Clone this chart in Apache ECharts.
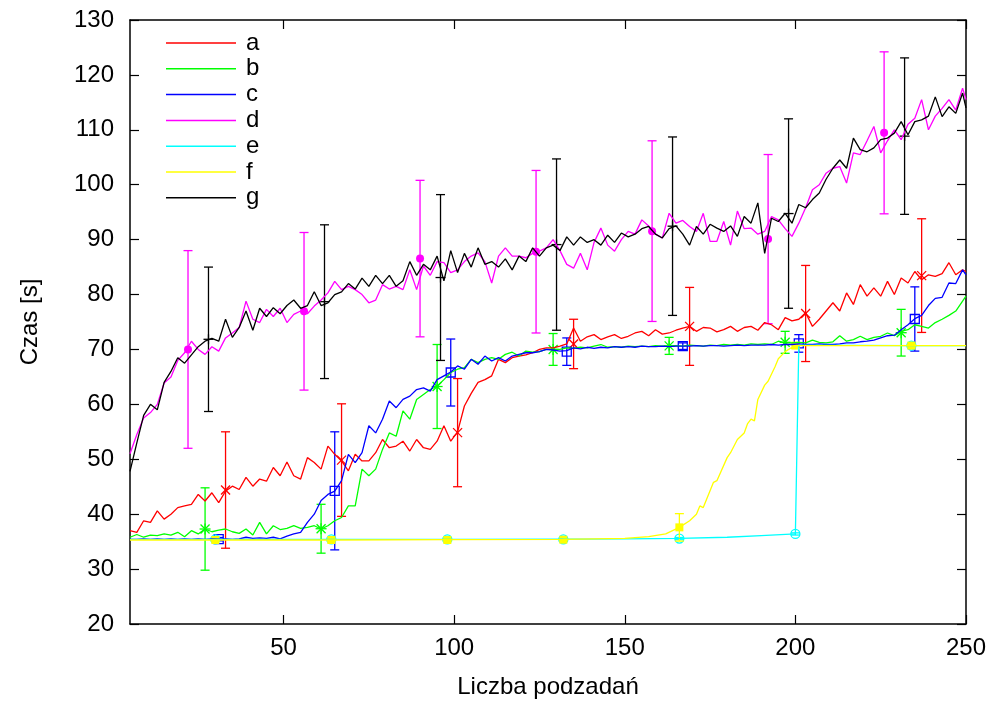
<!DOCTYPE html>
<html>
<head>
<meta charset="utf-8">
<script src="https://cdn.jsdelivr.net/npm/echarts@6/dist/echarts.min.js"></script>
<style>
  html, body { margin: 0; padding: 0; background: #ffffff; }
  #chart { width: 996px; height: 704px; }
</style>
</head>
<body>
<div id="chart"></div>
<script>
// Sample positions of the measured runs: every second task count from 5 to 249, plus 250
const runX = Array.from({ length: 123 }, (_, i) => 5 + 2 * i).concat([250]);

// Series values at runX (rows of ten: 5-23, 25-43, ... , 225-243, then 245-250)
const aVals = [
  37, 36.7, 38.8, 38.5, 40.6, 39.1, 40, 41.2, 41.5, 41.8,
  43.6, 42.4, 43.9, 42.1, 44.2, 45.1, 44.5, 46.7, 45.1, 46.4,
  46, 48.5, 47, 49.5, 47, 46.4, 50.3, 49.4, 48.2, 52.4,
  50.9, 49.7, 47.9, 50.9, 49.7, 49.7, 51.2, 53.6, 52.1, 52.4,
  53.3, 51.5, 53.6, 52.1, 51.8, 53.3, 56.1, 53.3, 55, 59.7,
  62, 64, 64.5, 65.2, 68.2, 67.6, 68.5, 68.8, 69, 69.4,
  70, 70.3, 70.3, 70.6, 71, 73.9, 71.5, 72.3, 72.7, 71.8,
  72.3, 72.7, 72, 72.4, 73, 73.3, 72.5, 73.6, 72.8, 73,
  73.5, 73.9, 74.2, 73.3, 74, 73.9, 73.2, 73.6, 74.2, 73.3,
  74, 74.2, 73.5, 74.9, 74.5, 73.6, 75.8, 75.2, 75.5, 76.7,
  74.2, 75.5, 77, 78.5, 77, 80.3, 78.2, 81.8, 79.7, 81.2,
  79.7, 82.4, 80, 83, 82.1, 84.2, 82.7, 83.6, 83.3, 83.8,
  85.8, 83.6, 84.5, 84.2
];
const bVals = [
  35.8, 36.3, 35.8, 36.2, 36.1, 36.4, 36.2, 36.7, 35.9, 37,
  36.4, 37.3, 36.8, 37.1, 37.3, 36.8, 36.5, 37.3, 36.2, 38.5,
  36.4, 37.9, 37.2, 37.4, 37.9, 37.4, 37.6, 37.9, 37.3, 37.9,
  38.8, 39.4, 41.5, 41.5, 48.2, 47, 48.2, 51.8, 54.8, 54.2,
  58.8, 57.3, 60.9, 61.8, 62.7, 63.3, 64.5, 65.8, 66.4, 66.7,
  68.2, 67.6, 68.2, 68.5, 68.2, 69.1, 69.5, 68.8, 69.7, 69.5,
  69.6, 70, 70, 70, 70.3, 70.2, 70.4, 70.3, 70.6, 70.9,
  70.4, 70.5, 70.4, 70.6, 70.5, 70.6, 70.5, 70.7, 70.6, 70.6,
  70.7, 70.6, 70.8, 70.7, 70.6, 70.8, 70.7, 70.9, 70.8, 70.9,
  70.8, 71, 70.9, 71, 70.9, 71.5, 71.2, 71.2, 71.3, 71.2,
  71.7, 71.3, 71.2, 71.4, 72.5, 71.5, 71.8, 72.4, 71.8, 72.2,
  72.4, 73, 72.5, 73.3, 73.6, 74.5, 74.2, 73.9, 74.9, 75.5,
  76.2, 77, 78.8, 79.7
];
const cVals = [
  35.4, 35.4, 35.5, 35.4, 35.5, 35.4, 35.5, 35.4, 35.5, 35.4,
  35.5, 35.4, 35.5, 35.45, 35.5, 35.4, 35.5, 35.8, 35.6, 35.7,
  35.6, 35.8, 35.5, 36, 36.4, 36.7, 38.5, 40, 42.5, 43.6,
  44.2, 46.1, 50.9, 49.4, 51.2, 56.1, 54.8, 57.3, 60.6, 59.4,
  60.9, 61.5, 62.7, 63, 62.4, 64.5, 65.2, 65.9, 67, 66.4,
  68.2, 67.3, 68.8, 67.9, 68.5, 67.9, 68.8, 69.1, 69.4, 69.4,
  69.6, 70, 69.9, 69.7, 69.8, 70.3, 70.1, 70.4, 70.2, 70.4,
  70.3, 70.5, 70.4, 70.5, 70.4, 70.6, 70.5, 70.5, 70.6, 70.5,
  70.6, 70.6, 70.6, 70.7, 70.6, 70.7, 70.7, 70.6, 70.7, 70.8,
  70.7, 70.8, 70.8, 70.8, 70.9, 70.8, 70.9, 70.9, 71, 70.9,
  70.9, 71, 70.9, 70.9, 71, 71.2, 71.2, 71.4, 71.5, 71.7,
  72.1, 72.5, 72.6, 73.6, 74.5, 75.6, 76.2, 78, 79.3, 79.5,
  82.1, 82, 84.5, 83.6
];
const dVals = [
  51, 54.5, 57.5, 58.5, 60, 63.9, 65, 68, 69.4, 71.5,
  70, 69.1, 70.5, 69.7, 72.1, 73, 74, 78.8, 75.5, 74.9,
  77.3, 76, 77.5, 74.9, 76.4, 77, 76.5, 77.9, 79, 80.3,
  82.4, 80.9, 81.5, 80.9, 80, 78.5, 79, 81.8, 81, 81.5,
  80.9, 84.5, 80.9, 85.2, 83.5, 86, 85.8, 84, 84.5, 86,
  87, 87.6, 86, 82.1, 87, 88.5, 87, 87, 86.7, 87.5,
  87.9, 88.5, 90, 88, 85.5, 84.8, 87.5, 84.5, 89.5, 92.1,
  89, 87.9, 90, 91.5, 91, 93.6, 92.5, 91, 90.3, 94.8,
  93, 93.5, 92.4, 91.5, 94.8, 89.7, 89.7, 93.3, 89, 95.2,
  92, 92.1, 91, 91.5, 94.2, 93.6, 92, 90.6, 93, 95.8,
  99.1, 100, 102.1, 103, 103.3, 100.3, 105.8, 105.5, 108, 110.6,
  105.8, 108, 110, 108.2, 111, 112.1, 115.5, 110, 112.5, 113.9,
  115.5, 113.6, 117.6, 115.5
];
const gVals = [
  47.8, 53, 58, 60, 59, 64, 66, 68.5, 67.5, 69,
  70.5, 71.5, 72, 71.5, 75.5, 72.2, 74, 77, 73.5, 77.5,
  76, 77.6, 76.5, 78, 79, 77.5, 78, 80.5, 78, 78.5,
  80, 80.5, 82, 81, 83, 81.5, 83.5, 82, 83.5, 81.5,
  82.5, 86, 83.5, 85.5, 84.5, 87, 82.5, 88, 84, 87.5,
  85, 88.5, 85.5, 86, 85, 86.5, 84.5, 87, 86, 88.5,
  87, 88.5, 89, 88, 90.5, 89, 90.5, 89.5, 90, 89,
  90.8, 89.5, 91.2, 90.5, 91, 92, 92.4, 91, 90.3, 92,
  92.5, 91, 89, 92.4, 91, 92.8, 92.1, 91.5, 92.5, 90.6,
  94.2, 93, 96.7, 87.5, 93.9, 93.3, 94.8, 93, 96.4, 95.8,
  97.3, 98.5, 101, 103, 104.5, 103, 108.5, 106.4, 106, 106.7,
  108.2, 108.5, 109.4, 111.5, 109.1, 111.5, 111.8, 112.5, 116, 112.4,
  114.2, 113, 116.7, 114
];

// Smooth runs e and f, recorded at their own task counts
const eX = [5, 30, 64, 98, 132, 150, 166, 180, 190, 200, 201, 234, 250];
const eVals = [35.4, 35.4, 35.4, 35.4, 35.45, 35.5, 35.6, 35.8, 36.1, 36.4, 70.8, 70.7, 70.7];
const fX = [5, 30, 64, 98, 132, 150, 157, 162, 166, 169, 171, 172, 173, 176, 177, 180, 181, 183,
  185, 186, 187, 188, 189, 191, 192, 194, 195, 197, 199, 200, 234, 250];
const fVals = [35.3, 35.3, 35.3, 35.35, 35.4, 35.6, 35.9, 36.4, 37.6, 38.8, 40, 41.5, 41.2, 45.8,
  46.1, 50.3, 51.2, 53.6, 54.8, 56.5, 57.3, 57, 60.9, 63.5, 64.2, 66.8, 68.3, 69.6, 70.4, 70.7,
  70.7, 70.7];

// Mean and spread (half-height of the error bar) at the marked task counts
const aErrX = [33, 67, 101, 135, 169, 203, 237];
const aErrMean = [44.4, 49.85, 54.85, 71, 74.2, 76.55, 83.45];
const aErrDev = [10.6, 10.25, 9.85, 4.5, 7.1, 8.75, 10.35];
const bErrX = [27, 61, 95, 129, 163, 197, 231];
const bErrMean = [37.3, 37.35, 63.25, 70, 70.65, 71.3, 73.05];
const bErrDev = [7.5, 4.45, 7.65, 2.9, 1.55, 2, 4.25];
const cErrX = [31, 65, 99, 133, 167, 201, 235];
const cErrMean = [35.45, 44.25, 65.8, 69.6, 70.6, 71.1, 75.55];
const cErrDev = [0.3, 10.75, 6.1, 2.5, 0.6, 1.6, 5.85];
const dErrX = [22, 56, 90, 124, 158, 192, 226];
const dErrMean = [70, 76.95, 86.55, 87.8, 91.55, 90.1, 109.45];
const dErrDev = [18, 14.35, 14.25, 14.8, 16.45, 15.4, 14.75];
const eErrX = [30, 64, 98, 132, 166, 200, 234];
const eErrMean = [35.4, 35.4, 35.4, 35.4, 35.55, 36.4, 70.7];
const eErrDev = [0.2, 0.2, 0.2, 0.2, 0.2, 0.2, 0.2];
const fErrX = [30, 64, 98, 132, 166, 200, 234];
const fErrMean = [35.3, 35.3, 35.3, 35.35, 37.6, 70.7, 70.7];
const fErrDev = [0.2, 0.2, 0.2, 0.2, 2.5, 0.5, 0.2];
const gErrX = [28, 62, 96, 130, 164, 198, 232];
const gErrMean = [71.85, 78.7, 83.1, 89.1, 92.45, 94.75, 108.85];
const gErrDev = [13.15, 14, 15.1, 15.6, 16.25, 17.25, 14.25];

const seriesNames = ['a', 'b', 'c', 'd', 'e', 'f', 'g'];
const xTicks = [50, 100, 150, 200, 250];

const FONT = '"Liberation Sans", Arial, Helvetica, sans-serif';
const LW = 1.3;

function pairs(xs, ys) { return xs.map((x, i) => [x, ys[i]]); }

// Point glyphs in the style of gnuplot point types
function markerShapes(kind, c, color) {
  const [x, y] = c;
  const st = { stroke: color, lineWidth: LW, fill: null };
  const ln = (x1, y1, x2, y2) => ({ type: 'line', shape: { x1, y1, x2, y2 }, style: st });
  const r = 4.5;
  switch (kind) {
    case 'cross': return [ln(x - r, y - r, x + r, y + r), ln(x - r, y + r, x + r, y - r)];
    case 'star': return [ln(x - r, y - r, x + r, y + r), ln(x - r, y + r, x + r, y - r),
                         ln(x - r - 1, y, x + r + 1, y), ln(x, y - r - 1, x, y + r + 1)];
    case 'square': return [{ type: 'rect', shape: { x: x - r, y: y - r, width: 2 * r, height: 2 * r }, style: st }];
    case 'dot': return [{ type: 'circle', shape: { cx: x, cy: y, r: 4 }, style: { fill: color } }];
    case 'circle': return [{ type: 'circle', shape: { cx: x, cy: y, r: 4.5 }, style: { stroke: color, lineWidth: LW, fill: 'none' } }];
    case 'fsquare': return [{ type: 'rect', shape: { x: x - 4, y: y - 4, width: 8, height: 8 }, style: { fill: color } }];
    case 'plus': return [ln(x - 5, y, x + 5, y), ln(x, y - 5, x, y + 5)];
  }
  return [];
}

function lineSeries(name, color, xs, ys) {
  return {
    name, type: 'line', color, data: pairs(xs, ys),
    showSymbol: false, symbol: 'none', animation: false, silent: true,
    lineStyle: { color, width: LW }
  };
}

function errorSeries(name, color, kind, xs, means, devs) {
  return {
    name: name + '-err', type: 'custom', animation: false, silent: true,
    data: xs.map((x, i) => [x, means[i], devs[i]]),
    encode: { x: 0, y: 1 },
    renderItem: (params, api) => {
      const x = api.value(0), m = api.value(1), d = api.value(2);
      const c = api.coord([x, m]);
      const top = api.coord([x, m + d])[1];
      const bot = api.coord([x, m - d])[1];
      const st = { stroke: color, lineWidth: LW, fill: null };
      const cap = 4.5;
      const children = [
        { type: 'line', shape: { x1: c[0], y1: top, x2: c[0], y2: bot }, style: st },
        { type: 'line', shape: { x1: c[0] - cap, y1: top, x2: c[0] + cap, y2: top }, style: st },
        { type: 'line', shape: { x1: c[0] - cap, y1: bot, x2: c[0] + cap, y2: bot }, style: st }
      ].concat(markerShapes(kind, c, color));
      return { type: 'group', children };
    }
  };
}

const colors = { a: '#ff0000', b: '#00ff00', c: '#0000ff', d: '#ff00ff', e: '#00ffff', f: '#ffff00', g: '#000000' };

const series = [
  lineSeries('a', colors.a, runX, aVals),
  errorSeries('a', colors.a, 'cross', aErrX, aErrMean, aErrDev),
  lineSeries('b', colors.b, runX, bVals),
  errorSeries('b', colors.b, 'star', bErrX, bErrMean, bErrDev),
  lineSeries('c', colors.c, runX, cVals),
  errorSeries('c', colors.c, 'square', cErrX, cErrMean, cErrDev),
  lineSeries('d', colors.d, runX, dVals),
  errorSeries('d', colors.d, 'dot', dErrX, dErrMean, dErrDev),
  lineSeries('e', colors.e, eX, eVals),
  errorSeries('e', colors.e, 'circle', eErrX, eErrMean, eErrDev),
  lineSeries('f', colors.f, fX, fVals),
  errorSeries('f', colors.f, 'fsquare', fErrX, fErrMean, fErrDev),
  lineSeries('g', colors.g, runX, gVals),
  errorSeries('g', colors.g, 'plus', gErrX, gErrMean, gErrDev)
];

const frameLine = { show: true, onZero: false, lineStyle: { color: '#000', width: 1.5 } };
const tick = { show: true, inside: true, length: 9, lineStyle: { color: '#000', width: 1.2 } };

const option = {
  backgroundColor: '#ffffff',
  animation: false,
  textStyle: { fontFamily: FONT },
  grid: { left: 130, right: 30, top: 20, bottom: 79, containLabel: false },
  legend: {
    data: seriesNames,
    orient: 'vertical',
    left: 161, top: 26,
    icon: 'rect',
    itemWidth: 70, itemHeight: 1.5,
    itemGap: 1.8,
    selectedMode: false,
    textStyle: { fontSize: 24, color: '#000', fontFamily: FONT, lineHeight: 24, padding: [0, 0, 0, 5] }
  },
  xAxis: [
    {
      type: 'value', min: 5, max: 250, position: 'bottom',
      name: 'Liczba podzadań', nameLocation: 'middle', nameGap: 51,
      nameTextStyle: { fontSize: 24, color: '#000', fontFamily: FONT },
      axisLine: frameLine,
      axisTick: Object.assign({}, tick, { customValues: xTicks }),
      axisLabel: { customValues: xTicks, fontSize: 24, color: '#000', margin: 12, fontFamily: FONT },
      splitLine: { show: false }
    },
    {
      type: 'value', min: 5, max: 250, position: 'top',
      axisLine: frameLine,
      axisTick: Object.assign({}, tick, { customValues: xTicks }),
      axisLabel: { show: false },
      splitLine: { show: false }
    }
  ],
  yAxis: [
    {
      type: 'value', min: 20, max: 130, interval: 10, position: 'left',
      name: 'Czas [s]', nameLocation: 'middle', nameGap: 88, nameRotate: 90,
      nameTextStyle: { fontSize: 24, color: '#000', fontFamily: FONT },
      axisLine: frameLine, axisTick: tick,
      axisLabel: { fontSize: 24, color: '#000', margin: 16, fontFamily: FONT },
      splitLine: { show: false }
    },
    {
      type: 'value', min: 20, max: 130, interval: 10, position: 'right',
      axisLine: frameLine, axisTick: tick,
      axisLabel: { show: false },
      splitLine: { show: false }
    }
  ],
  series
};

const chart = echarts.init(document.getElementById('chart'), null, { renderer: 'canvas' });
chart.setOption(option);
</script>
</body>
</html>
